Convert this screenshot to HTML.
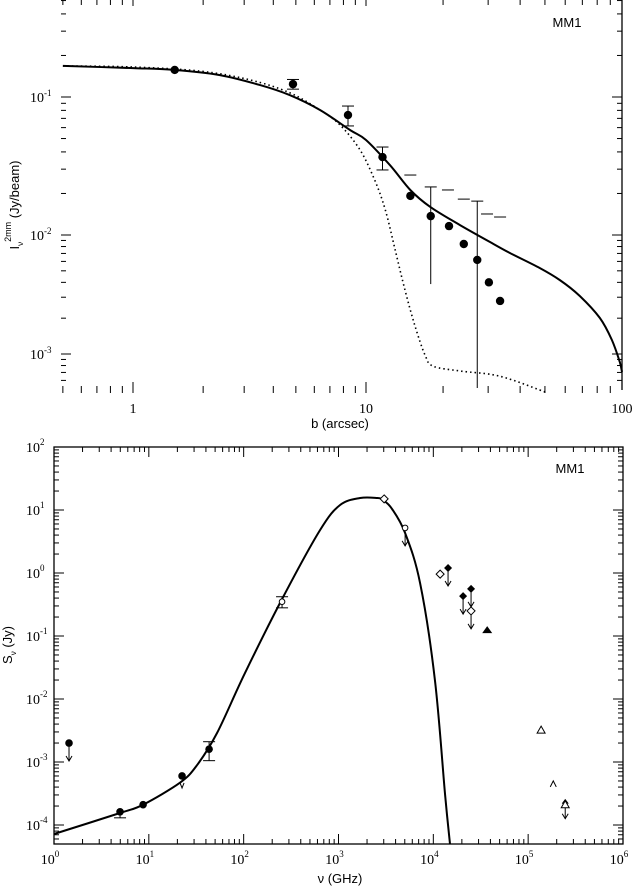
<!DOCTYPE html>
<html><head><meta charset="utf-8"><style>
html,body{margin:0;padding:0;background:#fff;}
svg{display:block;}
text{font-family:"Liberation Serif",serif;fill:#000;}
.sans{font-family:"Liberation Sans",sans-serif;}
</style></head><body>
<svg id="fig" width="635" height="889" viewBox="0 0 635 889" xmlns="http://www.w3.org/2000/svg">
<g id="topPanel"></g>
<g id="botPanel"></g>
</svg>
<script>
// ---------- Top panel data ----------
const topPtsX = [1.51, 4.86, 8.37, 11.6, 14.9, 17.9, 21.1, 24.1, 27.2, 30.2, 33.4];
const topPtsY = [0.157, 0.124, 0.074, 0.0367, 0.0192, 0.0137, 0.0116, 0.0084, 0.00617, 0.0040, 0.00279];
const topErrX = [4.86, 8.37, 11.6, 17.9, 27.2];
const topErrLo = [0.114, 0.0617, 0.0296, 0.00387, 0.000518];
const topErrHi = [0.134, 0.086, 0.0434, 0.0223, 0.0176];
const topErrLoCap = [true, true, true, false, false];
const topLimX = [14.9, 20.9, 24.1, 29.7, 33.4];
const topLimY = [0.0272, 0.0212, 0.0182, 0.0142, 0.0135];
const modelX = [0.5, 1, 1.51, 2.36, 3.51, 4.72, 6.35, 8.54, 10, 12.4, 14.9, 17.8, 23.3, 30.5, 36.5, 47.7, 57.1, 68.4, 81.9, 91.3, 98, 100];
const modelY = [0.168, 0.162, 0.157, 0.144, 0.122, 0.103, 0.0805, 0.0577, 0.0488, 0.0321, 0.0212, 0.0160, 0.0118, 0.00873, 0.00706, 0.00528, 0.00419, 0.00307, 0.00201, 0.00131, 0.000857, 0.000706];
const dotX = [0.5, 1, 1.94, 3.18, 4.72, 6.35, 7.74, 9.43, 10.8, 11.9, 13.0, 14.2, 15.5, 17.0, 18.3, 23.3, 33.4, 51.3];
const dotY = [0.168, 0.165, 0.154, 0.133, 0.107, 0.0805, 0.0627, 0.0413, 0.0251, 0.0152, 0.00748, 0.00345, 0.00175, 0.00098, 0.00079, 0.00072, 0.00065, 0.00047];
const topXTickLabels = ["1", "10", "100"];
const topXTickVals = [1, 10, 100];
const topYTickExps = [-1, -2, -3];

// ---------- Bottom panel data ----------
const sedModelX = [1, 4.97, 8.7, 21.3, 32.2, 52.5, 103, 261, 640, 1040, 1690, 2550, 2950, 3670, 5040, 7260, 10400, 13300, 15000];
const sedModelY = [7.2e-5, 1.55e-4, 2.1e-4, 4.7e-4, 8.9e-4, 2.9e-3, 0.0257, 0.417, 4.82, 12.0, 15.5, 15.5, 14.4, 10.4, 4.31, 0.69, 0.020, 3.0e-4, 5.0e-5];
const sedX = [1.44, 4.97, 8.7, 22.4, 43.2, 254, 3030, 5040, 11800, 14300, 20600, 25000, 25000, 37000, 137000, 184000, 246000];
const sedY = [0.0020, 1.62e-4, 2.1e-4, 6.0e-4, 1.6e-3, 0.35, 15.0, 5.2, 0.96, 1.2, 0.43, 0.56, 0.25, 0.124, 3.2e-3, 4.5e-4, 2.1e-4];
const sedMarker = ["fc","fc","fc","fc","fc","oc","od","oc","od","fd","fd","fd","od","ft","ot","caret","ot"];
const sedArrow = ["down","","","v","","","","down","","down","down","down","down","","","","both"];
const sedErrLo = [0, 1.3e-4, 0, 0, 1.05e-3, 0.28, 0, 0, 0, 0, 0, 0, 0, 0, 0, 0, 0];
const sedErrHi = [0, 0, 0, 0, 2.1e-3, 0.42, 0, 0, 0, 0, 0, 0, 0, 0, 0, 0, 0];
const sedXTickExps = [0, 1, 2, 3, 4, 5, 6];
const sedYTickExps = [2, 1, 0, -1, -2, -3, -4];

const NS = "http://www.w3.org/2000/svg";
function mk(parent, tag, attrs, txt){
  const e = document.createElementNS(NS, tag);
  for (const k in attrs) e.setAttribute(k, attrs[k]);
  if (txt !== undefined) e.textContent = txt;
  parent.appendChild(e);
  return e;
}
function pw3(l, k){
  const dir = Math.sign(k[1][0] - k[0][0]);
  const useFirst = (l - k[1][0]) * dir <= 0;
  const a = useFirst ? k[0] : k[1], b = useFirst ? k[1] : k[2];
  return a[1] + (l - a[0]) * (b[1] - a[1]) / (b[0] - a[0]);
}
const tx = v => pw3(Math.log10(v), [[0,133],[1,366],[2,622]]);
const ty = v => pw3(Math.log10(v), [[-1,97],[-2,235],[-3,354]]);
const bx = v => 54 + Math.log10(v) * 94.83;
const by = v => 447 + (2 - Math.log10(v)) * 63;

const topG = document.getElementById('topPanel');
const botG = document.getElementById('botPanel');

// ---- Top axes ----
let ax = mk(topG, 'line', {x1:622, y1:0, x2:622, y2:390, stroke:'#000', 'stroke-width':1.3});


for (let d = -1; d <= 1; d++){
  for (let m = 1; m <= 9; m++){
    const v = m * Math.pow(10, d);
    if (v < 0.5 || v > 100) continue;
    const x = tx(v), major = (m === 1);
    const t1 = mk(topG, 'line', {x1:x, y1:393, x2:x, y2:major?382:386, stroke:'#000', 'stroke-width':1});
    
    
    mk(topG, 'line', {x1:x, y1:0, x2:x, y2:major?6:5, stroke:'#000', 'stroke-width':1});
  }
}
topXTickVals.forEach((v, i) => {
  const t = mk(topG, 'text', {x:tx(v), y:413, 'font-size':14, 'text-anchor':'middle'}, topXTickLabels[i]);
  
  
});
for (let d = -4; d <= -1; d++){
  for (let m = 1; m <= 9; m++){
    const v = m * Math.pow(10, d);
    const y = ty(v);
    if (y < 0 || y > 388) continue;
    const major = (m === 1);
    const t = mk(topG, 'line', {x1:61, y1:y, x2:major?71:66, y2:y, stroke:'#000', 'stroke-width':1});
    
    
    mk(topG, 'line', {x1:622, y1:y, x2:major?612:617, y2:y, stroke:'#000', 'stroke-width':1});
  }
}
topYTickExps.forEach(e => {
  const t = mk(topG, 'text', {x:30, y:ty(Math.pow(10,e))+5, 'font-size':14}, '10');
  
  
  mk(t, 'tspan', {dy:-6, 'font-size':9}, String(e));
});
let tl = mk(topG, 'text', {x:340, y:428, 'font-size':13, 'text-anchor':'middle', class:'sans'}, 'b (arcsec)');


tl = mk(topG, 'text', {transform:'translate(19,205) rotate(-90)', 'font-size':13, 'text-anchor':'middle', class:'sans'});


mk(tl, 'tspan', {}, 'I');
mk(tl, 'tspan', {dy:4, 'font-size':8}, 'ν');
mk(tl, 'tspan', {dy:-12, 'font-size':9}, '2mm');
mk(tl, 'tspan', {dy:8}, ' (Jy/beam)');
tl = mk(topG, 'text', {x:567, y:27, 'font-size':13, 'text-anchor':'middle', class:'sans'}, 'MM1');



function smooth(parent, xs, ys, fx, fy, attrs){
  const P = xs.map((x, i) => [fx(x), fy(ys[i])]);
  let d = 'M' + P[0][0].toFixed(1) + ',' + P[0][1].toFixed(1);
  for (let i = 0; i < P.length - 1; i++){
    const p0 = P[Math.max(0, i-1)], p1 = P[i], p2 = P[i+1], p3 = P[Math.min(P.length-1, i+2)];
    const c1 = [p1[0] + (p2[0]-p0[0])/6, p1[1] + (p2[1]-p0[1])/6];
    const c2 = [p2[0] - (p3[0]-p1[0])/6, p2[1] - (p3[1]-p1[1])/6];
    d += ' C' + c1.map(v=>v.toFixed(1)).join(',') + ' ' + c2.map(v=>v.toFixed(1)).join(',') + ' ' + p2.map(v=>v.toFixed(1)).join(',');
  }
  return mk(parent, 'path', Object.assign({d:d, fill:'none', stroke:'#000'}, attrs));
}
let c = smooth(topG, modelX, modelY, tx, ty, {'stroke-width':2});


c = smooth(topG, dotX, dotY, tx, ty, {'stroke-width':1.6, 'stroke-dasharray':'1.5 3'});


topErrX.forEach((x, i) => {
  const X = tx(x), y1 = ty(topErrLo[i]), y2 = ty(topErrHi[i]);
  const e = mk(topG, 'line', {x1:X, y1:y1, x2:X, y2:y2, stroke:'#000', 'stroke-width':1});
  
  
  mk(topG, 'line', {x1:X-6, y1:y2, x2:X+6, y2:y2, stroke:'#000', 'stroke-width':1});
  if (topErrLoCap[i]) mk(topG, 'line', {x1:X-6, y1:y1, x2:X+6, y2:y1, stroke:'#000', 'stroke-width':1});
});
topPtsX.forEach((x, i) => {
  const p = mk(topG, 'circle', {cx:tx(x), cy:ty(topPtsY[i]), r:4.2, fill:'#000'});
  
  
});
topLimX.forEach((x, i) => {
  const X = tx(x), Y = ty(topLimY[i]);
  const l = mk(topG, 'line', {x1:X-6, y1:Y, x2:X+6, y2:Y, stroke:'#000', 'stroke-width':1});
  
  
});

// ---- Bottom axes ----
ax = mk(botG, 'rect', {x:54, y:447, width:569, height:397, fill:'none', stroke:'#000', 'stroke-width':1.3});


for (let d = 0; d < 6; d++){
  for (let m = 1; m <= 9; m++){
    const x = bx(m * Math.pow(10, d)), L = m === 1 ? 10 : 5;
    const t = mk(botG, 'line', {x1:x, y1:844, x2:x, y2:844-L, stroke:'#000', 'stroke-width':1});
    
    
    mk(botG, 'line', {x1:x, y1:447, x2:x, y2:447+L, stroke:'#000', 'stroke-width':1});
  }
}
for (let d = -5; d <= 1; d++){
  for (let m = 1; m <= 9; m++){
    const y = by(m * Math.pow(10, d));
    if (y < 447 || y > 844) continue;
    const L = m === 1 ? 10 : 5;
    const t = mk(botG, 'line', {x1:54, y1:y, x2:54+L, y2:y, stroke:'#000', 'stroke-width':1});
    
    
    mk(botG, 'line', {x1:623, y1:y, x2:623-L, y2:y, stroke:'#000', 'stroke-width':1});
  }
}
sedXTickExps.forEach(e => {
  const t = mk(botG, 'text', {x:bx(Math.pow(10,e))-4, y:864, 'font-size':14, 'text-anchor':'middle'}, '10');
  
  
  mk(t, 'tspan', {dy:-7, 'font-size':9}, String(e));
});
sedYTickExps.forEach(e => {
  const t = mk(botG, 'text', {x:26, y:by(Math.pow(10,e))+5, 'font-size':14}, '10');
  
  
  mk(t, 'tspan', {dy:-7, 'font-size':9}, String(e));
});
tl = mk(botG, 'text', {x:340, y:883, 'font-size':13, 'text-anchor':'middle', class:'sans'}, 'ν (GHz)');


tl = mk(botG, 'text', {transform:'translate(12,645) rotate(-90)', 'font-size':13, 'text-anchor':'middle', class:'sans'});


mk(tl, 'tspan', {}, 'S');
mk(tl, 'tspan', {dy:4, 'font-size':8}, 'ν');
mk(tl, 'tspan', {dy:-4}, ' (Jy)');
tl = mk(botG, 'text', {x:570, y:473, 'font-size':13, 'text-anchor':'middle', class:'sans'}, 'MM1');



c = smooth(botG, sedModelX, sedModelY, bx, by, {'stroke-width':2});



function arrowDown(g, X, Y, len){
  mk(g, 'line', {x1:X, y1:Y, x2:X, y2:Y+len, stroke:'#000', 'stroke-width':1});
  mk(g, 'polyline', {points:`${X-3},${Y+len-5} ${X},${Y+len} ${X+3},${Y+len-5}`, fill:'none', stroke:'#000', 'stroke-width':1});
}
sedX.forEach((x, i) => {
  const X = bx(x), Y = by(sedY[i]);
  const g = mk(botG, 'g', {});
  
  
  if (sedErrLo[i] || sedErrHi[i]){
    const y1 = sedErrLo[i] ? by(sedErrLo[i]) : Y, y2 = sedErrHi[i] ? by(sedErrHi[i]) : Y;
    mk(g, 'line', {x1:X, y1:y1, x2:X, y2:y2, stroke:'#000', 'stroke-width':1});
    if (sedErrLo[i]) mk(g, 'line', {x1:X-6, y1:y1, x2:X+6, y2:y1, stroke:'#000', 'stroke-width':1});
    if (sedErrHi[i]) mk(g, 'line', {x1:X-6, y1:y2, x2:X+6, y2:y2, stroke:'#000', 'stroke-width':1});
  }
  if (sedArrow[i] === 'down') arrowDown(g, X, Y, 18);
  if (sedArrow[i] === 'v') mk(g, 'polyline', {points:`${X-2},${Y+7} ${X},${Y+12} ${X+2},${Y+7}`, fill:'none', stroke:'#000', 'stroke-width':1});
  if (sedArrow[i] === 'both'){
    arrowDown(g, X, Y, 14);
    mk(g, 'polyline', {points:`${X-3},${Y-1} ${X},${Y-5} ${X+3},${Y-1}`, fill:'none', stroke:'#000', 'stroke-width':1});
  }
  const mkr = sedMarker[i];
  if (mkr === 'fc') mk(g, 'circle', {cx:X, cy:Y, r:3.8, fill:'#000'});
  if (mkr === 'oc') mk(g, 'circle', {cx:X, cy:Y, r:2.8, fill:'#fff', stroke:'#000', 'stroke-width':1});
  if (mkr === 'od') mk(g, 'polygon', {points:`${X},${Y-4} ${X+4},${Y} ${X},${Y+4} ${X-4},${Y}`, fill:'#fff', stroke:'#000', 'stroke-width':1});
  if (mkr === 'fd') mk(g, 'polygon', {points:`${X},${Y-4} ${X+4},${Y} ${X},${Y+4} ${X-4},${Y}`, fill:'#000'});
  if (mkr === 'ft') mk(g, 'polygon', {points:`${X},${Y-4} ${X+5},${Y+3} ${X-5},${Y+3}`, fill:'#000'});
  if (mkr === 'ot') mk(g, 'polygon', {points:`${X},${Y-4} ${X+4},${Y+3} ${X-4},${Y+3}`, fill:'#fff', stroke:'#000', 'stroke-width':1});
  if (mkr === 'caret') mk(g, 'polyline', {points:`${X-3},${Y+3} ${X},${Y-3} ${X+3},${Y+3}`, fill:'none', stroke:'#000', 'stroke-width':1});
});
</script>
</body></html>
